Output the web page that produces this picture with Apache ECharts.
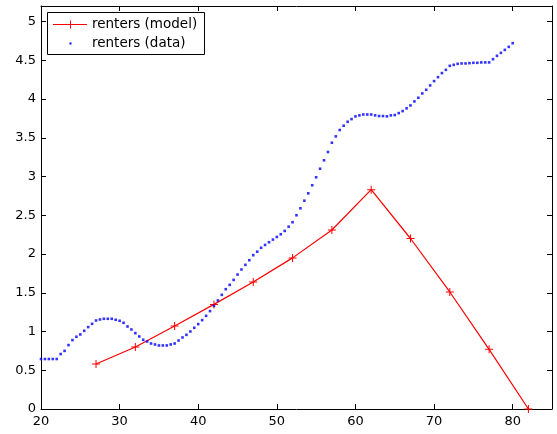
<!DOCTYPE html>
<html>
<head>
<meta charset="utf-8">
<script src="https://cdn.jsdelivr.net/npm/echarts@6/dist/echarts.min.js"></script>
<style>
  html, body { margin: 0; padding: 0; background: #fff; }
  #chart { width: 557px; height: 434px; }
</style>
</head>
<body>
<div id="chart"></div>
<script>
// Series names
const seriesNames = ['renters (model)', 'renters (data)'];

// Model: share of renters at five-year age steps
const modelAges = [27, 32, 37, 42, 47, 52, 57, 62, 67, 72, 77, 82];
const modelValues = [0.58, 0.80, 1.07, 1.35, 1.64, 1.95, 2.31, 2.83, 2.20, 1.51, 0.77, 0];

// Data: smoothed observations every half year of age
const dataAges = [
  20, 20.5, 21, 21.5, 22, 22.5, 23, 23.5, 24, 24.5,
  25, 25.5, 26, 26.5, 27, 27.5, 28, 28.5, 29, 29.5,
  30, 30.5, 31, 31.5, 32, 32.5, 33, 33.5, 34, 34.5,
  35, 35.5, 36, 36.5, 37, 37.5, 38, 38.5, 39, 39.5,
  40, 40.5, 41, 41.5, 42, 42.5, 43, 43.5, 44, 44.5,
  45, 45.5, 46, 46.5, 47, 47.5, 48, 48.5, 49, 49.5,
  50, 50.5, 51, 51.5, 52, 52.5, 53, 53.5, 54, 54.5,
  55, 55.5, 56, 56.5, 57, 57.5, 58, 58.5, 59, 59.5,
  60, 60.5, 61, 61.5, 62, 62.5, 63, 63.5, 64, 64.5,
  65, 65.5, 66, 66.5, 67, 67.5, 68, 68.5, 69, 69.5,
  70, 70.5, 71, 71.5, 72, 72.5, 73, 73.5, 74, 74.5,
  75, 75.5, 76, 76.5, 77, 77.5, 78, 78.5, 79, 79.5,
  80
];
const dataValues = [
  0.645, 0.645, 0.645, 0.645, 0.645, 0.709, 0.75, 0.825, 0.889, 0.932,
  0.962, 1.009, 1.057, 1.099, 1.142, 1.155, 1.164, 1.164, 1.164, 1.151,
  1.138, 1.112, 1.065, 1.026, 0.979, 0.936, 0.893, 0.871, 0.845, 0.833,
  0.820, 0.820, 0.820, 0.833, 0.845, 0.884, 0.923, 0.957, 1.0, 1.048,
  1.095, 1.147, 1.202, 1.263, 1.331, 1.40, 1.473, 1.546, 1.602, 1.666,
  1.735, 1.80, 1.86, 1.92, 1.985, 2.03, 2.08, 2.117, 2.152, 2.186,
  2.22, 2.255, 2.298, 2.353, 2.41, 2.50, 2.59, 2.688, 2.783, 2.887,
  2.99, 3.10, 3.209, 3.316, 3.436, 3.518, 3.60, 3.655, 3.706, 3.741,
  3.776, 3.789, 3.80, 3.80, 3.80, 3.789, 3.78, 3.78, 3.776, 3.789,
  3.793, 3.818, 3.844, 3.879, 3.917, 3.969, 4.016, 4.072, 4.119, 4.175,
  4.231, 4.282, 4.334, 4.376, 4.428, 4.441, 4.454, 4.459, 4.459, 4.463,
  4.467, 4.467, 4.472, 4.472, 4.472, 4.514, 4.557, 4.595, 4.634, 4.673,
  4.72
];

// Axis ranges
const xRange = { min: 20, max: 85, step: 10 };
const yRange = { min: 0, max: 5.2, step: 0.5 };

const FONT = 'DejaVu Sans';
const plusSymbol = 'path://M3.5,0H4.5V3.5H8V4.5H4.5V8H3.5V4.5H0V3.5H3.5Z';

function makeAxis(range, position, showLabels) {
  return {
    type: 'value',
    position: position,
    min: range.min,
    max: range.max,
    interval: range.step,
    axisLine: { show: true, onZero: false, lineStyle: { color: '#000', width: 1 } },
    axisTick: { show: true, inside: true, length: 5, lineStyle: { color: '#000', width: 1 } },
    axisLabel: {
      show: showLabels,
      showMaxLabel: false,
      margin: position === 'bottom' ? 6 : 5,
      color: '#000',
      fontSize: 13,
      fontFamily: FONT
    },
    splitLine: { show: false }
  };
}

const chart = echarts.init(document.getElementById('chart'), null, { renderer: 'canvas' });

const legendTop = 12;
chart.setOption({
  animation: false,
  backgroundColor: '#fff',
  grid: { left: 41, right: 5, top: 6, bottom: 25, containLabel: false },
  xAxis: [makeAxis(xRange, 'bottom', true), makeAxis(xRange, 'top', false)],
  yAxis: [makeAxis(yRange, 'left', true), makeAxis(yRange, 'right', false)],
  series: [
    {
      name: seriesNames[0],
      type: 'line',
      xAxisIndex: 0,
      yAxisIndex: 0,
      data: modelAges.map((a, i) => [a, modelValues[i]]),
      lineStyle: { color: '#ff0000', width: 1.2 },
      itemStyle: { color: '#ff0000' },
      symbol: plusSymbol,
      symbolSize: 8,
      showAllSymbol: true,
      clip: false,
      z: 2
    },
    {
      name: seriesNames[1],
      type: 'scatter',
      xAxisIndex: 0,
      yAxisIndex: 0,
      data: dataAges.map((a, i) => [a, dataValues[i]]),
      symbol: 'rect',
      symbolSize: 2.6,
      itemStyle: { color: '#0000ff' },
      z: 3
    }
  ],
  graphic: [
    {
      type: 'group',
      left: 47,
      top: legendTop,
      children: [
        {
          type: 'rect',
          shape: { x: 0.5, y: 0.5, width: 157, height: 42 },
          style: { fill: '#fff', stroke: '#000', lineWidth: 1 }
        },
        {
          type: 'line',
          shape: { x1: 6, y1: 12.5, x2: 40, y2: 12.5 },
          style: { stroke: '#ff0000', lineWidth: 1 }
        },
        {
          type: 'line',
          shape: { x1: 23.5, y1: 8.5, x2: 23.5, y2: 16.5 },
          style: { stroke: '#ff0000', lineWidth: 1 }
        },
        {
          type: 'rect',
          shape: { x: 22.5, y: 30.5, width: 2, height: 2 },
          style: { fill: '#0000ff' }
        },
        {
          type: 'text',
          x: 45, y: 12.5,
          style: { text: seriesNames[0], fill: '#000', font: '13.5px "' + FONT + '"', textVerticalAlign: 'middle', verticalAlign: 'middle' }
        },
        {
          type: 'text',
          x: 45, y: 31.5,
          style: { text: seriesNames[1], fill: '#000', font: '13.5px "' + FONT + '"', textVerticalAlign: 'middle', verticalAlign: 'middle' }
        }
      ]
    }
  ]
});
</script>
</body>
</html>
